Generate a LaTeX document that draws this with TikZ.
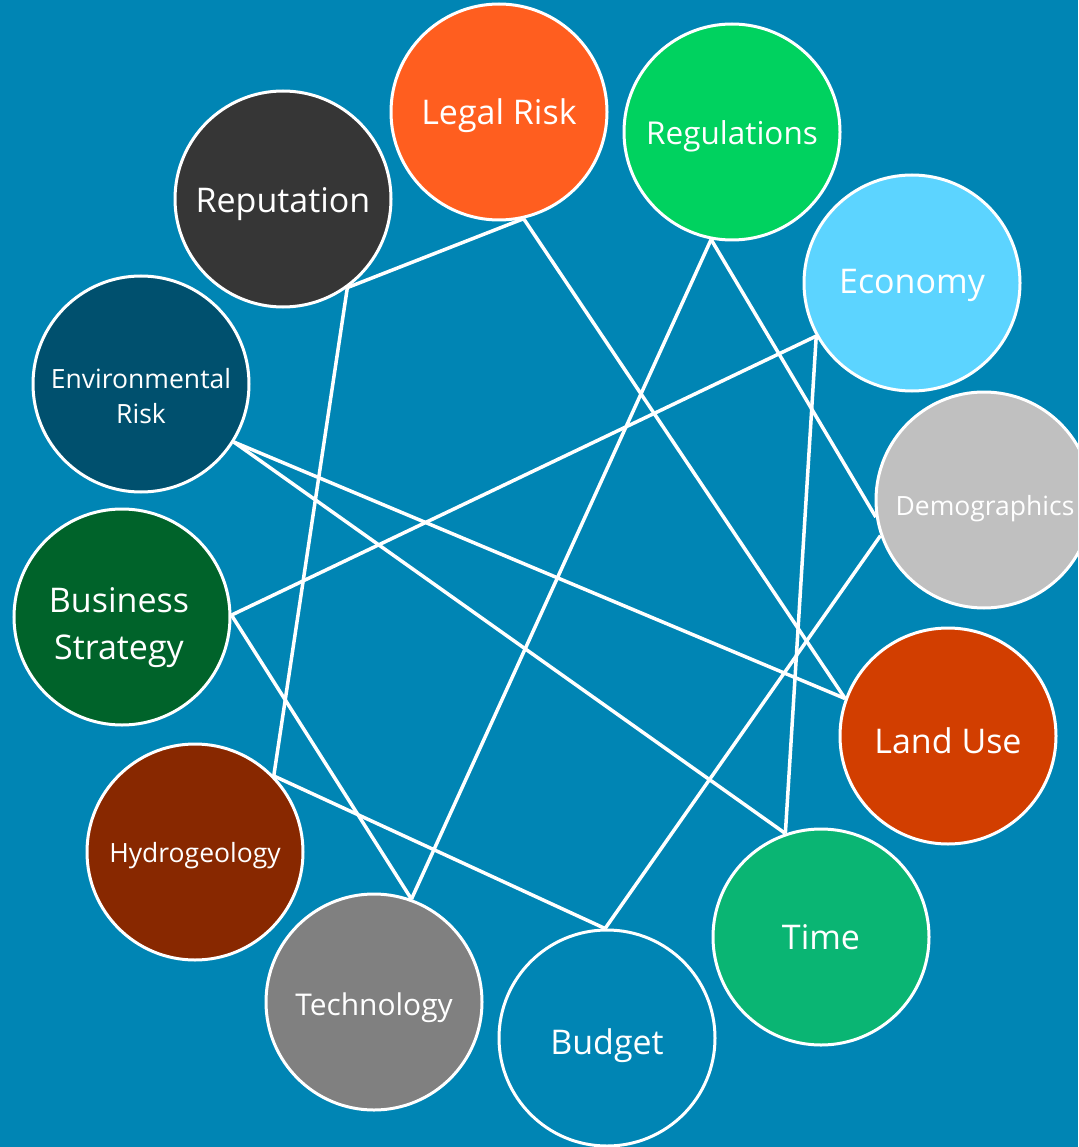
\documentclass[tikz,border=0pt]{standalone}
\usepackage{fontspec}
\setmainfont{Open Sans}
\definecolor{bgblue}{HTML}{0085B4}
\definecolor{clegal}{HTML}{FF5E1F}
\definecolor{creg}{HTML}{00D25F}
\definecolor{crep}{HTML}{363636}
\definecolor{cecon}{HTML}{5CD4FF}
\definecolor{cenv}{HTML}{00506E}
\definecolor{cdemo}{HTML}{C0C0C0}
\definecolor{cbus}{HTML}{00632A}
\definecolor{cland}{HTML}{D23E00}
\definecolor{chydro}{HTML}{882800}
\definecolor{ctime}{HTML}{0AB573}
\definecolor{ctech}{HTML}{808080}
\pgfdeclarelayer{bglayer}
\pgfdeclarelayer{linelayer}
\pgfsetlayers{bglayer,linelayer,main}
\tikzset{
  bubble/.style={circle, draw=white, line width=3pt, minimum size=216pt, inner sep=0pt},
  lbl/.style={text=white, align=center, inner sep=0pt},
  big/.style={lbl, font=\fontsize{34}{47}\selectfont},
  mid/.style={lbl, font=\fontsize{31.5}{36}\selectfont},
  small/.style={lbl, font=\fontsize{26.5}{35}\selectfont},
  link/.style={draw=white, line width=3.5pt}
}
\begin{document}
\begin{tikzpicture}[x=1pt,y=-1pt]
\useasboundingbox (0,0) rectangle (1078,1147);
\clip (0,0) rectangle (1078,1147);
\begin{pgfonlayer}{bglayer}
\fill[bgblue] (0,0) rectangle (1078,1147);
\end{pgfonlayer}
\node[bubble, fill=clegal] (legal) at (499,112) {};
\node[bubble, fill=creg] (reg) at (732,132) {};
\node[bubble, fill=crep] (rep) at (283,199) {};
\node[bubble, fill=cecon] (econ) at (912,283) {};
\node[bubble, fill=cenv] (env) at (141,384) {};
\node[bubble, fill=cdemo] (demo) at (984,500) {};
\node[bubble, fill=cbus] (bus) at (122,617) {};
\node[bubble, fill=cland] (land) at (948,736) {};
\node[bubble, fill=chydro] (hydro) at (195,852) {};
\node[bubble, fill=ctime] (time) at (821,937) {};
\node[bubble, fill=ctech] (tech) at (374,1002) {};
\node[bubble, fill=bgblue] (budget) at (607,1038) {};
\node[big, yshift=-4pt] (legal-t) at (legal) {Legal Risk};
\node[mid, yshift=-4pt] (reg-t) at (reg) {Regulations};
\node[big, yshift=-5pt] (rep-t) at (rep) {Reputation};
\node[big, yshift=-2pt] (econ-t) at (econ) {Economy};
\node[small, yshift=-12pt] (env-t) at (env) {Environmental\\Risk};
\node[small, yshift=-9pt, xshift=1pt] (demo-t) at (demo) {Demographics};
\node[big, yshift=-11pt, xshift=-3pt] (bus-t) at (bus) {Business\\Strategy};
\node[big, yshift=-5pt] (land-t) at (land) {Land Use};
\node[small, yshift=-4pt] (hydro-t) at (hydro) {Hydrogeology};
\node[big] (time-t) at (time) {Time};
\node[mid, yshift=-6pt, scale=0.95] (tech-t) at (tech) {Technology};
\node[big, yshift=-8pt] (budget-t) at (budget) {Budget};
\begin{pgfonlayer}{linelayer}
\draw[link] (legal.-77) -- (rep.-54.5);
\draw[link] (legal.-77) -- (land.160);
\draw[link] (reg.-101) -- (tech.70.6);
\draw[link] (reg.-101) -- (demo.-171);
\draw[link] (rep.-54.5) -- (hydro.44.6);
\draw[link] (econ.-151) -- (bus.1);
\draw[link] (econ.-151) -- (time.109);
\draw[link] (demo.-161) -- (budget.91);
\draw[link] (env.-32) -- (land.160);
\draw[link] (env.-32) -- (time.109);
\draw[link] (bus.1) -- (tech.70.6);
\draw[link] (hydro.44.6) -- (budget.91);
\end{pgfonlayer}
\end{tikzpicture}
\end{document}
